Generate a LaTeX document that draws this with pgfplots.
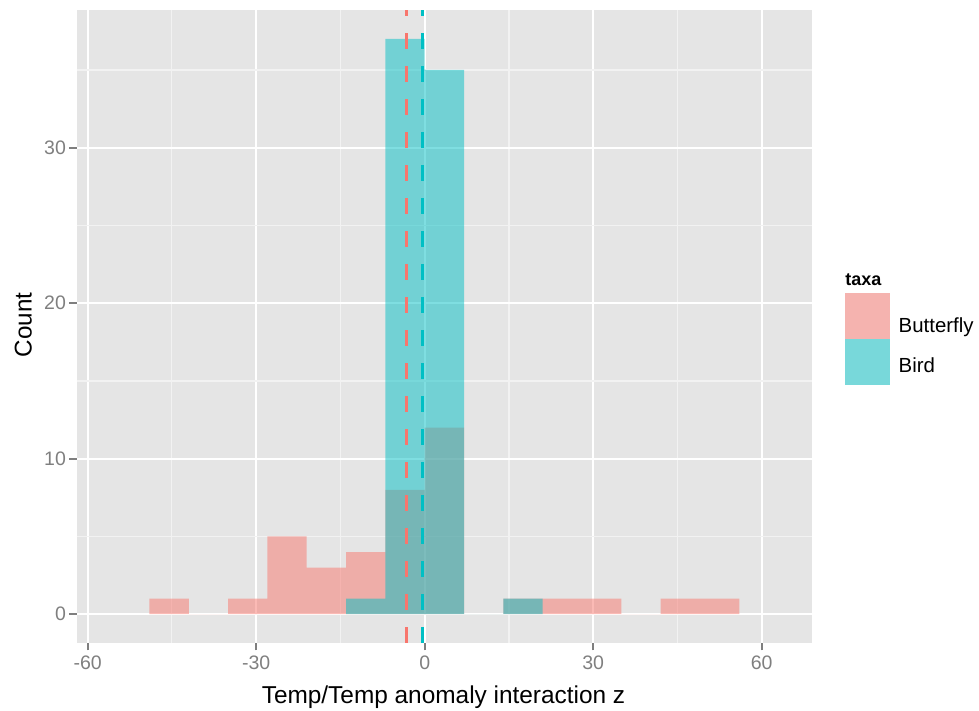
\documentclass[border=0pt]{standalone}
\usepackage{pgfplots}
\pgfplotsset{compat=1.18}
\usepackage{fontspec}
\setmainfont{Liberation Sans}
\definecolor{panelbg}{HTML}{E5E5E5}
\definecolor{minorgrid}{HTML}{F2F2F2}
\definecolor{bfly}{HTML}{F8766D}
\definecolor{bird}{HTML}{00BFC4}
\definecolor{tickgrey}{HTML}{7F7F7F}
\begin{document}
\begin{tikzpicture}
\useasboundingbox (-38.35bp,-34bp) rectangle (451.15bp,321.5bp);
\begin{axis}[
  at={(0,0)}, anchor=south west,
  scale only axis, width=367.65bp, height=316.45bp,
  xmin=-61.95, xmax=68.95, ymin=-1.85, ymax=38.85,
  axis background/.style={fill=panelbg},
  axis line style={draw=none},
  xtick={-60,-30,0,30,60}, xticklabels={-60,-30,0,30,60},
  ytick={0,10,20,30}, yticklabels={0,10,20,30},
  minor xtick={-45,-15,15,45}, minor ytick={5,15,25,35},
  xmajorgrids, ymajorgrids, xminorgrids, yminorgrids,
  major grid style={white, line width=1.05bp},
  minor grid style={minorgrid, line width=0.55bp},
  tick align=outside, major tick length=3.7bp, minor tick length=0pt,
  tick pos=left,
  major tick style={tickgrey, line width=1bp},
  ticklabel style={font=\fontsize{9.75bp}{11bp}\selectfont, text=tickgrey, inner sep=0pt},
  xticklabel style={anchor=north, yshift=-2.5bp},
  yticklabel style={anchor=east, xshift=-1.5bp},
]
\addplot[ybar interval, fill=bfly, fill opacity=0.5, draw=none] coordinates {
(-49,1) (-42,0) (-35,1) (-28,5) (-21,3) (-14,4) (-7,8) (0,12) (7,0) (14,1) (21,1) (28,1) (35,0) (42,1) (49,1) (56,0)};
\addplot[ybar interval, fill=bird, fill opacity=0.5, draw=none] coordinates {
(-14,1) (-7,37) (0,35) (7,0) (14,1) (21,0)};
\addplot[bfly, line width=1.7bp, dash pattern=on 8bp off 8.5bp] coordinates {(-3.2,-1.85) (-3.2,38.85)};
\addplot[bird, line width=1.7bp, dash pattern=on 8bp off 8.5bp] coordinates {(-0.36,-1.85) (-0.36,38.85)};
\end{axis}
\node[anchor=base, inner sep=0pt, font=\fontsize{12.2bp}{14bp}\selectfont] at (183.4bp,-30bp) {Temp/Temp anomaly interaction z};
\node[rotate=90, anchor=base, inner sep=0pt, font=\fontsize{12.1bp}{14bp}\selectfont] at (-22.5bp,159bp) {Count};
\fill[minorgrid] (384.15bp,129bp) rectangle (406.65bp,175bp);
\fill[bfly, opacity=0.5] (384.15bp,152bp) rectangle (406.65bp,175bp);
\fill[bird, opacity=0.5] (384.15bp,129bp) rectangle (406.65bp,152bp);
\node[anchor=base west, inner sep=0pt, font=\bfseries\fontsize{9bp}{11bp}\selectfont] at (384.15bp,178.5bp) {taxa};
\node[anchor=base west, inner sep=0pt, font=\fontsize{10.2bp}{12bp}\selectfont] at (410.8bp,155.15bp) {Butterfly};
\node[anchor=base west, inner sep=0pt, font=\fontsize{10.2bp}{12bp}\selectfont] at (410.8bp,135.15bp) {Bird};
\end{tikzpicture}
\end{document}
